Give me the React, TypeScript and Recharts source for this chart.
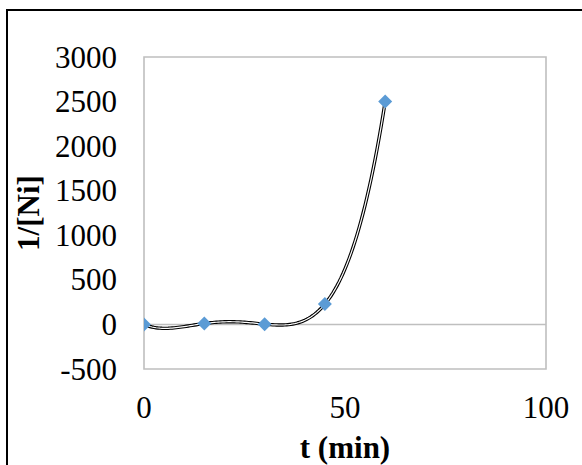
import React from 'react';
import {
  ComposedChart,
  Scatter,
  Line,
  XAxis,
  YAxis,
  ReferenceLine,
  ReferenceArea,
} from 'recharts';

// Measured reciprocal nickel concentration versus time
const timeMin = [0, 15, 30, 45, 60];
const invNi = [0, 10, 3, 228, 2500];

const xTicks = [0, 50, 100];
const yTicks = [-500, 0, 500, 1000, 1500, 2000, 2500, 3000];

const TREND_ORDER = 4;

const FONT = '"Liberation Serif", "Times New Roman", serif';
const MARKER = '#5B9BD5';
const FRAME_GREY = '#BFBFBF';

const points = timeMin.map((t, i) => ({ t, v: invNi[i] }));

// Least-squares polynomial fit (x scaled to [0,1] to keep the normal equations well conditioned)
function polyFit(xs: number[], ys: number[], order: number) {
  const scale = Math.max(...xs) || 1;
  const us = xs.map((x) => x / scale);
  const n = order + 1;
  const A: number[][] = Array.from({ length: n }, () => new Array(n + 1).fill(0));
  for (let r = 0; r < n; r++) {
    for (let c = 0; c < n; c++) {
      A[r][c] = us.reduce((s, u) => s + Math.pow(u, r + c), 0);
    }
    A[r][n] = us.reduce((s, u, k) => s + ys[k] * Math.pow(u, r), 0);
  }
  for (let p = 0; p < n; p++) {
    let best = p;
    for (let r = p + 1; r < n; r++) if (Math.abs(A[r][p]) > Math.abs(A[best][p])) best = r;
    [A[p], A[best]] = [A[best], A[p]];
    for (let r = 0; r < n; r++) {
      if (r === p) continue;
      const f = A[r][p] / A[p][p];
      for (let c = p; c <= n; c++) A[r][c] -= f * A[p][c];
    }
  }
  const coef = A.map((row, i) => row[n] / row[i]);
  return (x: number) => {
    const u = x / scale;
    return coef.reduce((s, a, i) => s + a * Math.pow(u, i), 0);
  };
}

const trend = polyFit(timeMin, invNi, TREND_ORDER);
const tStart = timeMin[0];
const tEnd = timeMin[timeMin.length - 1];
const trendData: { t: number; v: number }[] = [];
for (let t = tStart; t <= tEnd + 1e-9; t += 0.5) {
  trendData.push({ t, v: trend(t) });
}

const Diamond = (props: any) => {
  const { cx, cy } = props;
  if (cx == null || cy == null) return null;
  const r = 7;
  return (
    <polygon
      points={`${cx},${cy - r} ${cx + r},${cy} ${cx},${cy + r} ${cx - r},${cy}`}
      fill={MARKER}
    />
  );
};

const YTick = (props: any) => {
  const { x, y, payload } = props;
  return (
    <text
      x={x - 27}
      y={y}
      dy="0.34em"
      textAnchor="end"
      fontSize={31}
      fontFamily={FONT}
      fill="#000"
    >
      {payload.value}
    </text>
  );
};

const XTick = (props: any) => {
  const { x, y, payload } = props;
  return (
    <text
      x={x}
      y={y + 49}
      textAnchor="middle"
      fontSize={31}
      fontFamily={FONT}
      fill="#000"
    >
      {payload.value}
    </text>
  );
};

const XTitle = (props: any) => {
  const vb = props.viewBox || {};
  return (
    <text
      x={vb.x + vb.width / 2}
      y={vb.y + 89}
      textAnchor="middle"
      fontSize={31}
      fontWeight="bold"
      fontFamily={FONT}
      fill="#000"
    >
      t (min)
    </text>
  );
};

const YTitle = (props: any) => {
  const vb = props.viewBox || {};
  const cx = 39;
  const cy = vb.y + vb.height / 2;
  return (
    <text
      x={cx}
      y={cy}
      transform={`rotate(-90 ${cx} ${cy})`}
      textAnchor="middle"
      fontSize={31}
      fontWeight="bold"
      fontFamily={FONT}
      fill="#000"
    >
      1/[Ni]
    </text>
  );
};

export default function App() {
  return (
    <div
      style={{
        position: 'absolute',
        left: 0,
        top: 0,
        width: 582,
        height: 465,
        overflow: 'hidden',
        background: '#fff',
      }}
    >
      <div
        style={{
          position: 'absolute',
          left: 6,
          top: 9,
          width: 640,
          height: 520,
          border: '2px solid #000',
          boxSizing: 'border-box',
        }}
      />
      <div style={{ position: 'absolute', left: 0, top: 0 }}>
        <ComposedChart
          width={582}
          height={465}
          margin={{ top: 57, right: 36, bottom: 0, left: 0 }}
        >
          <XAxis
            dataKey="t"
            type="number"
            domain={[0, 100]}
            ticks={xTicks}
            allowDataOverflow
            axisLine={false}
            tickLine={false}
            tickSize={0}
            tickMargin={0}
            height={96}
            tick={<XTick />}
            label={{ content: <XTitle /> }}
          />
          <YAxis
            dataKey="v"
            type="number"
            domain={[-500, 3000]}
            ticks={yTicks}
            allowDataOverflow
            axisLine={false}
            tickLine={false}
            tickSize={0}
            tickMargin={0}
            width={144}
            tick={<YTick />}
            label={{ content: <YTitle /> }}
          />
          <ReferenceArea
            x1={0}
            x2={100}
            y1={-500}
            y2={3000}
            fill="none"
            stroke={FRAME_GREY}
            strokeWidth={1.6}
            ifOverflow="visible"
          />
          <ReferenceLine y={0} stroke={FRAME_GREY} strokeWidth={1.6} />
          <Scatter
            data={points}
            dataKey="v"
            shape={<Diamond />}
            isAnimationActive={false}
          />
          <Line
            data={trendData}
            dataKey="v"
            type="linear"
            stroke="#000"
            strokeWidth={3.4}
            dot={false}
            activeDot={false}
            isAnimationActive={false}
          />
          <Line
            data={trendData}
            dataKey="v"
            type="linear"
            stroke="#fff"
            strokeWidth={1.2}
            dot={false}
            activeDot={false}
            isAnimationActive={false}
          />
        </ComposedChart>
      </div>
    </div>
  );
}
